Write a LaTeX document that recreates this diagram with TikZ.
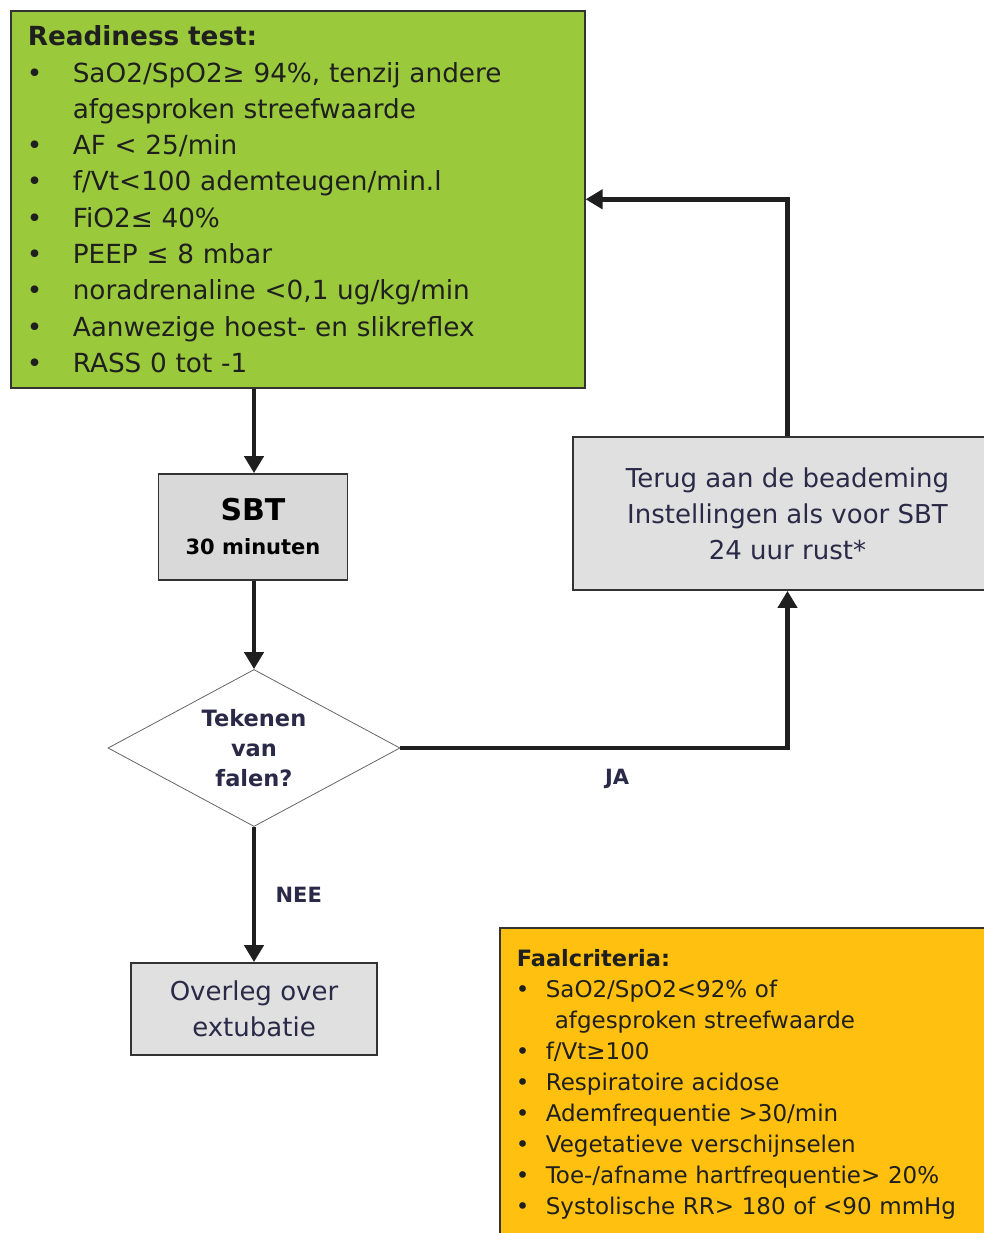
\documentclass[tikz,border=0pt]{standalone}
\usepackage{fontspec}
\setmainfont{DejaVu Sans}
\usepackage{xcolor}
\usetikzlibrary{arrows, arrows.meta, positioning, shapes, calc}
\definecolor{readygreen}{RGB}{154,202,60}
\definecolor{faalorange}{RGB}{255,192,15}
\definecolor{boxgrey}{RGB}{224,224,224}
\definecolor{sbtgrey}{RGB}{217,217,217}
\definecolor{navytext}{RGB}{42,42,72}
\tikzset{
	every node/.style={
		align=center,
	},
}
\tikzstyle{listbox} = [draw=black!80, line width=1.6pt, align=left, anchor=north west, inner xsep=17pt, text=black!88]
\tikzstyle{greybox} = [draw=black!80, line width=1.8pt, fill=boxgrey, text=navytext, font=\fontsize{26}{36}\selectfont]
\tikzstyle{decision} = [diamond, draw=black!60, line width=0.8pt, fill=white, inner sep=0pt, aspect=1.86, text=navytext, font=\bfseries\fontsize{22.5}{30}\selectfont]
\tikzstyle{answer} = [text=navytext, font=\bfseries\fontsize{21}{25}\selectfont]
\tikzstyle{arrowline} = [line width=4.6pt, draw=black!88, -{Triangle[length=17pt,width=19pt]}]
\newcommand{\bitem}[2]{\makebox[#1][l]{\hspace{-1pt}\textbullet}#2}

\begin{document}
\begin{tikzpicture}[x=1pt, y=-1pt]
    \path [use as bounding box, clip] (0,0) rectangle (984,1233);

    \node (rt) [listbox, fill=readygreen, text width=540pt, minimum width=574pt, minimum height=377pt, font=\fontsize{26.3}{36.3}\selectfont] at (10,10) {%
        \textbf{Readiness test:}\\
        \bitem{45pt}{SaO2/SpO2≥ 94\%, tenzij andere}\\
        \hspace*{45pt}afgesproken streefwaarde\\
        \bitem{45pt}{AF < 25/min}\\
        \bitem{45pt}{f/Vt<100 ademteugen/min.l}\\
        \bitem{45pt}{FiO2≤ 40\%}\\
        \bitem{45pt}{PEEP ≤ 8 mbar}\\
        \bitem{45pt}{noradrenaline <0,1 ug/kg/min}\\
        \bitem{45pt}{Aanwezige hoest- en slikreflex}\\
        \bitem{45pt}{RASS 0 tot -1}};

    \node (sbt) [greybox, fill=sbtgrey, text=black, minimum width=189pt, minimum height=106pt] at (253,527) {{\bfseries\fontsize{30}{32}\selectfont SBT}\\[-2pt] {\bfseries\fontsize{21}{26}\selectfont 30 minuten}};
    \node (dia) [decision, minimum width=292pt, minimum height=157pt] at (254,748) {Tekenen\\van\\falen?};
    \node (ovl) [greybox, minimum width=246pt, minimum height=92pt] at (254,1009) {Overleg over\\extubatie};
    \node (terug) [greybox, minimum width=429pt, minimum height=153pt] at (787.5,513.5) {Terug aan de beademing\\Instellingen als voor SBT\\24 uur rust*};

    \node (faal) [listbox, fill=faalorange, inner ysep=22pt, text width=480pt, font=\fontsize{23}{31}\selectfont] at (499,927) {%
        {\bfseries\fontsize{22.5}{31}\selectfont Faalcriteria:}\\
        \bitem{29pt}{SaO2/SpO2<92\% of}\\
        \hspace*{38pt}afgesproken streefwaarde\\
        \bitem{29pt}{f/Vt≥100}\\
        \bitem{29pt}{Respiratoire acidose}\\
        \bitem{29pt}{Ademfrequentie >30/min}\\
        \bitem{29pt}{Vegetatieve verschijnselen}\\
        \bitem{29pt}{Toe-/afname hartfrequentie> 20\%}\\
        \bitem{29pt}{Systolische RR> 180 of <90 mmHg}};

    \draw [arrowline] (rt.south -| dia.north) -- (sbt.north -| dia.north);
    \draw [arrowline] (sbt.south -| dia.north) -- (dia.north);
    \draw [arrowline] (dia.south) -- (ovl.north) node (nee) [answer, pos=0.5, right=16pt] {NEE};
    \draw [arrowline] (dia.east) -| (terug.south) node (ja) [answer, pos=0.28, below=16pt] {JA};
    \draw [arrowline] (terug.north) |- (rt.east);

\end{tikzpicture}
\end{document}
